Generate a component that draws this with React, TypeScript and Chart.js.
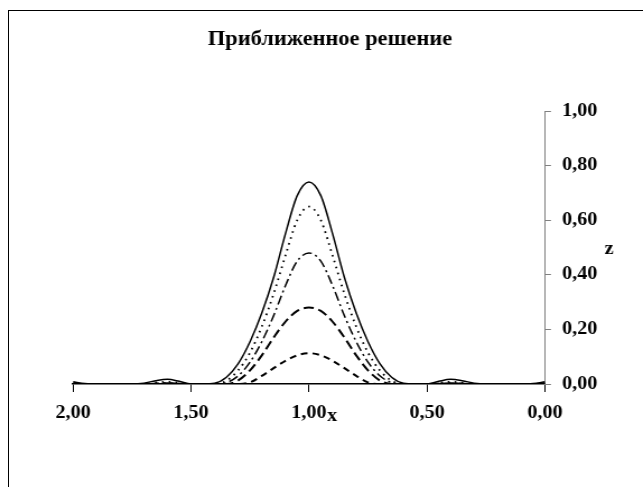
import React, { useEffect, useRef } from 'react';
import { Chart, registerables } from 'chart.js';

Chart.register(...registerables);

const TITLE = 'Приближенное решение';
const X_AXIS_LABEL = 'x';
const Y_AXIS_LABEL = 'z';

// x grid: 0.00 .. 2.00 step 0.05
const xValues = [
  0.0, 0.05, 0.1, 0.15, 0.2, 0.25, 0.3, 0.35, 0.4, 0.45,
  0.5, 0.55, 0.6, 0.65, 0.7, 0.75, 0.8, 0.85, 0.9, 0.95,
  1.0, 1.05, 1.1, 1.15, 1.2, 1.25, 1.3, 1.35, 1.4, 1.45,
  1.5, 1.55, 1.6, 1.65, 1.7, 1.75, 1.8, 1.85, 1.9, 1.95, 2.0,
];

const seriesSolid = [
  0.008, 0.002, 0, 0, 0, 0, 0.003, 0.012, 0.017, 0.01,
  0, 0, 0.003, 0.025, 0.075, 0.155, 0.26, 0.39, 0.55, 0.69,
  0.74, 0.69, 0.55, 0.39, 0.26, 0.155, 0.075, 0.025, 0.003, 0,
  0, 0.01, 0.017, 0.012, 0.003, 0, 0, 0, 0, 0.002, 0.008,
];

const seriesDotted = [
  0.004, 0, 0, 0, 0, 0, 0, 0.005, 0.008, 0.004,
  0, 0, 0, 0.012, 0.05, 0.115, 0.21, 0.33, 0.47, 0.6,
  0.65, 0.6, 0.47, 0.33, 0.21, 0.115, 0.05, 0.012, 0, 0,
  0, 0.004, 0.008, 0.005, 0, 0, 0, 0, 0, 0, 0.004,
];

const seriesDashDot = [
  0.002, 0, 0, 0, 0, 0, 0, 0.002, 0.004, 0.002,
  0, 0, 0, 0.005, 0.03, 0.08, 0.155, 0.25, 0.36, 0.45,
  0.48, 0.45, 0.36, 0.25, 0.155, 0.08, 0.03, 0.005, 0, 0,
  0, 0.002, 0.004, 0.002, 0, 0, 0, 0, 0, 0, 0.002,
];

const seriesLongDash = [
  0, 0, 0, 0, 0, 0, 0, 0.001, 0.003, 0.001,
  0, 0, 0, 0, 0.013, 0.05, 0.105, 0.17, 0.228, 0.268,
  0.28, 0.268, 0.228, 0.17, 0.105, 0.05, 0.013, 0, 0, 0,
  0, 0.001, 0.003, 0.001, 0, 0, 0, 0, 0, 0, 0,
];

const seriesShortDash = [
  0, 0, 0, 0, 0, 0, 0, 0, 0, 0,
  0, 0, 0, 0, 0, 0.006, 0.03, 0.058, 0.085, 0.105,
  0.113, 0.105, 0.085, 0.058, 0.03, 0.006, 0, 0, 0, 0,
  0, 0, 0, 0, 0, 0, 0, 0, 0, 0, 0,
];

const xTickValues = [0, 0.5, 1, 1.5, 2];
const yTickValues = [0, 0.2, 0.4, 0.6, 0.8, 1.0];

const FONT = '"Liberation Serif", "Times New Roman", serif';

// The reference is horizontally stretched; draw on a narrower canvas and stretch it with CSS.
const PAGE_W = 643;
const PAGE_H = 487;
const CANVAS_W = 574;
const K = PAGE_W / CANVAS_W;
const hx = (px: number) => px / K;

const fmt = (v: number) => v.toFixed(2).replace('.', ',');

const toPoints = (ys: number[]) => xValues.map((x, i) => ({ x, y: ys[i] }));

const labelsPlugin = {
  id: 'extraLabels',
  afterDraw(chart: any) {
    const { ctx, scales } = chart;
    const xs = scales.x;
    const ys = scales.y;
    ctx.save();
    ctx.fillStyle = '#000';
    ctx.font = `bold 20px ${FONT}`;
    ctx.textAlign = 'center';
    ctx.textBaseline = 'middle';
    ctx.fillText(TITLE, hx(330), 40);
    ctx.font = `bold 18px ${FONT}`;
    ctx.textAlign = 'left';
    ctx.textBaseline = 'alphabetic';
    ctx.fillText(X_AXIS_LABEL, xs.getPixelForValue(1) + hx(18), 421);
    ctx.textAlign = 'center';
    ctx.textBaseline = 'middle';
    ctx.fillText(Y_AXIS_LABEL, hx(609), ys.getPixelForValue(0.5) + 2);
    ctx.restore();
  },
};

export default function App() {
  const ref = useRef<HTMLCanvasElement | null>(null);

  useEffect(() => {
    if (!ref.current) return;
    const common = {
      pointRadius: 0,
      fill: false,
      cubicInterpolationMode: 'monotone' as const,
      borderColor: '#000',
    };
    const chart = new Chart(ref.current, {
      type: 'line',
      data: {
        datasets: [
          { ...common, data: toPoints(seriesShortDash), borderWidth: 2, borderDash: [6, 4.5] },
          { ...common, data: toPoints(seriesLongDash), borderWidth: 2, borderDash: [9, 4.5] },
          { ...common, data: toPoints(seriesDashDot), borderWidth: 1.5, borderDash: [9, 3.5, 2, 3.5] },
          { ...common, data: toPoints(seriesDotted), borderWidth: 1.8, borderDash: [1.6, 4.5] },
          { ...common, data: toPoints(seriesSolid), borderWidth: 1.5 },
        ],
      },
      options: {
        responsive: false,
        animation: false,
        devicePixelRatio: 1,
        layout: { padding: { left: hx(73), top: 111, right: 0, bottom: 0 } },
        plugins: {
          legend: { display: false },
          tooltip: { enabled: false },
          title: { display: false },
        },
        scales: {
          x: {
            type: 'linear',
            position: 'bottom',
            reverse: true,
            min: 0,
            max: 2,
            afterBuildTicks: (scale: any) => {
              scale.ticks = xTickValues.map((v) => ({ value: v }));
            },
            afterFit: (scale: any) => {
              scale.height = PAGE_H - 384;
            },
            grid: {
              drawOnChartArea: false,
              drawTicks: true,
              tickLength: 8,
              color: '#000',
              lineWidth: 1,
            },
            border: { display: true, color: '#000', width: 1.5 },
            ticks: {
              padding: 11,
              maxRotation: 0,
              autoSkip: false,
              color: '#000',
              font: { family: FONT, size: 18, weight: 'bold' },
              callback: (v: any) => fmt(Number(v)),
            },
          },
          y: {
            type: 'linear',
            position: 'right',
            min: 0,
            max: 1,
            afterBuildTicks: (scale: any) => {
              scale.ticks = yTickValues.map((v) => ({ value: v }));
            },
            afterFit: (scale: any) => {
              scale.width = hx(PAGE_W - 545);
            },
            grid: {
              drawOnChartArea: false,
              drawTicks: true,
              tickLength: hx(6),
              color: '#808080',
              lineWidth: 1,
            },
            border: { display: true, color: '#808080', width: 1 },
            ticks: {
              padding: hx(11),
              color: '#000',
              font: { family: FONT, size: 18, weight: 'bold' },
              callback: (v: any) => fmt(Number(v)),
            },
          },
        },
      },
      plugins: [labelsPlugin],
    } as any);
    return () => chart.destroy();
  }, []);

  return (
    <div
      style={{
        position: 'fixed',
        left: 0,
        top: 0,
        width: PAGE_W,
        height: PAGE_H,
        overflow: 'hidden',
        background: '#fff',
      }}
    >
      <canvas
        ref={ref}
        width={CANVAS_W}
        height={PAGE_H}
        style={{ position: 'absolute', left: 0, top: 0, width: PAGE_W, height: PAGE_H }}
      />
      <div
        style={{
          position: 'absolute',
          left: 8,
          top: 10,
          width: 700,
          height: 600,
          border: '1px solid #000',
          pointerEvents: 'none',
        }}
      />
    </div>
  );
}
